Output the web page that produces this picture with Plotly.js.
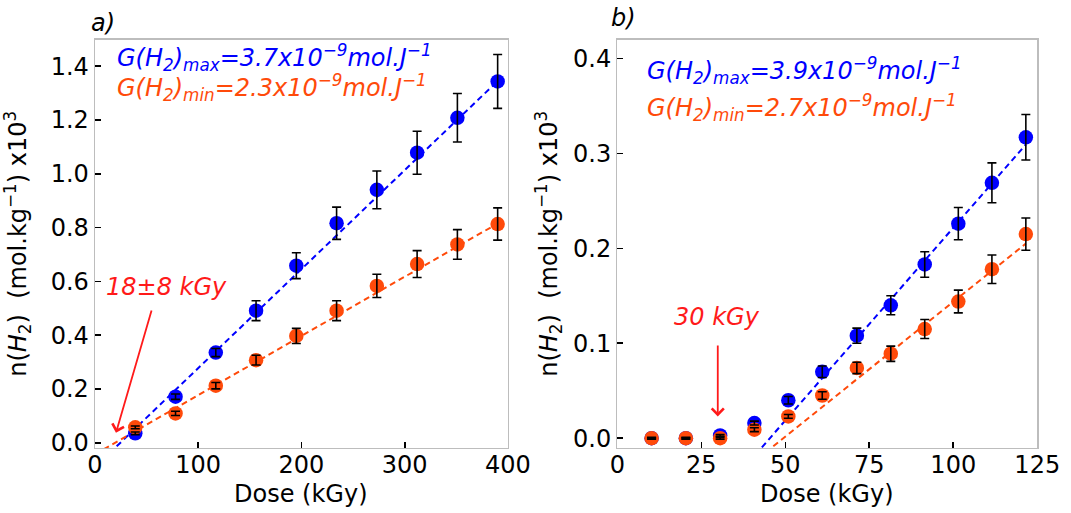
<!DOCTYPE html>
<html>
<head>
<meta charset="utf-8">
<script src="https://cdn.plot.ly/plotly-3.0.1.min.js"></script>
<style>html,body{margin:0;padding:0;background:#fff;}#chart{width:1071px;height:513px;}</style>
</head>
<body>
<div id="chart"></div>
<script>
// ---------- Panel a) data ----------
const doseA = [39, 78, 117, 156, 195, 234, 273, 312, 351, 390];
const maxA = [0.035, 0.171, 0.335, 0.491, 0.658, 0.816, 0.940, 1.078, 1.208, 1.343];
const maxErrA = [0.005, 0.010, 0.015, 0.037, 0.048, 0.060, 0.070, 0.080, 0.090, 0.100];
const minA = [0.057, 0.109, 0.212, 0.307, 0.397, 0.491, 0.583, 0.664, 0.737, 0.813];
const minErrA = [0.005, 0.008, 0.012, 0.018, 0.028, 0.037, 0.043, 0.050, 0.055, 0.060];
// linear fits (slope, intercept) for panel a)
const fitMaxA = [0.00368, -0.0906];
const fitMinA = [0.00220, -0.0430];

// ---------- Panel b) data ----------
const doseB = [10.2, 20.4, 30.6, 40.8, 50.9, 61.0, 71.3, 81.4, 91.5, 101.5, 111.5, 121.6];
const maxB = [0.000, 0.000, 0.003, 0.016, 0.040, 0.070, 0.108, 0.140, 0.183, 0.226, 0.269, 0.317];
const maxErrB = [0.001, 0.001, 0.001, 0.002, 0.004, 0.006, 0.008, 0.010, 0.0135, 0.017, 0.021, 0.024];
const minB = [0.000, 0.000, 0.000, 0.009, 0.023, 0.045, 0.074, 0.089, 0.115, 0.144, 0.178, 0.215];
const minErrB = [0.0005, 0.0005, 0.001, 0.002, 0.002, 0.004, 0.006, 0.008, 0.010, 0.012, 0.015, 0.017];
const fitMaxB = [0.00406, -0.1843];
const fitMinB = [0.00284, -0.1403];

// labels
const gMaxA = "3.7", gMinA = "2.3", gMaxB = "3.9", gMinB = "2.7";
const thresholdA = "18±8 kGy", thresholdB = "30 kGy";
const xTitle = "Dose (kGy)";
const yTitle = "n(<i>H</i><sub>2</sub>)  (mol.kg<sup>−1</sup>) x10<sup>3</sup>";

const BLUE = "#0000ff", ORANGE = "#ff4a0a", RED = "#ff1a1a";
const FONT = "DejaVu Sans";

function fitLine(p, x0, x1) {
  const xs = [x0, x1];
  return { x: xs, y: xs.map(v => p[0] * v + p[1]) };
}

function panelTraces(dose, ymax, emax, ymin, emin, fmax, fmin, xa, ya) {
  const lmax = fitLine(fmax, 0, dose[dose.length - 1]);
  const lmin = fitLine(fmin, 0, dose[dose.length - 1]);
  const dash = { width: 2, dash: "6px,4px" };
  return [
    { x: lmax.x, y: lmax.y, mode: "lines", line: Object.assign({ color: BLUE }, dash), xaxis: xa, yaxis: ya, hoverinfo: "skip" },
    { x: lmin.x, y: lmin.y, mode: "lines", line: Object.assign({ color: ORANGE }, dash), xaxis: xa, yaxis: ya, hoverinfo: "skip" },
    { x: dose, y: ymax, mode: "markers", marker: { color: BLUE, size: 14.5 }, xaxis: xa, yaxis: ya },
    { x: dose, y: ymin, mode: "markers", marker: { color: ORANGE, size: 14.5 }, xaxis: xa, yaxis: ya },
    { x: dose, y: ymax, mode: "markers", marker: { opacity: 0, size: 1 }, xaxis: xa, yaxis: ya,
      error_y: { type: "data", array: emax, visible: true, color: "#000", thickness: 1.6, width: 4.5 } },
    { x: dose, y: ymin, mode: "markers", marker: { opacity: 0, size: 1 }, xaxis: xa, yaxis: ya,
      error_y: { type: "data", array: emin, visible: true, color: "#000", thickness: 1.6, width: 4.5 } }
  ];
}

const data = [].concat(
  panelTraces(doseA, maxA, maxErrA, minA, minErrA, fitMaxA, fitMinA, "x", "y"),
  panelTraces(doseB, maxB, maxErrB, minB, minErrB, fitMaxB, fitMinB, "x2", "y2")
);

const axisBase = {
  showline: true, mirror: true, linecolor: "#bdbdbd", linewidth: 1.3,
  ticks: "inside", ticklen: 6, tickwidth: 1.6, tickcolor: "#000",
  showgrid: false, zeroline: false,
  tickfont: { family: FONT, size: 24, color: "#000" }
};
function gText(val, kind) {
  return "<i>G(H<sub>2</sub>)<sub>" + kind + "</sub>=" + val + "x10<sup>−9</sup>mol.J<sup>−1</sup></i>";
}
const W = 1071, H = 513;
const domA = [0.0887, 0.4743], domB = [0.5764, 0.9685], domY = [0.1267, 0.923];
const yMid = (domY[0] + domY[1]) / 2;

const layout = {
  width: W, height: H,
  margin: { l: 0, r: 0, t: 0, b: 0 },
  paper_bgcolor: "#fff", plot_bgcolor: "#fff",
  showlegend: false,
  font: { family: FONT, size: 24, color: "#000" },
  xaxis: Object.assign({}, axisBase, { domain: domA, range: [0, 400], dtick: 100, anchor: "y", ticklabelstandoff: -5 }),
  yaxis: Object.assign({}, axisBase, { domain: domY, range: [-0.0197, 1.499], dtick: 0.2, tickformat: ".1f", anchor: "x" }),
  xaxis2: Object.assign({}, axisBase, { domain: domB, range: [0, 125], dtick: 25, anchor: "y2", ticklabelstandoff: -5 }),
  yaxis2: Object.assign({}, axisBase, { domain: domY, range: [-0.0103, 0.42], dtick: 0.1, tickformat: ".1f", anchor: "x2" }),
  annotations: [
    // axis titles
    { xref: "paper", yref: "paper", x: (domA[0] + domA[1]) / 2, y: 1 - 494 / H, text: xTitle, showarrow: false,
      xanchor: "center", yanchor: "middle", font: { family: FONT, size: 24, color: "#000" } },
    { xref: "paper", yref: "paper", x: (domB[0] + domB[1]) / 2, y: 1 - 494 / H, text: xTitle, showarrow: false,
      xanchor: "center", yanchor: "middle", font: { family: FONT, size: 24, color: "#000" } },
    { xref: "paper", yref: "paper", x: 18 / W, y: yMid, text: yTitle, textangle: -90, showarrow: false,
      xanchor: "center", yanchor: "middle", font: { family: FONT, size: 24, color: "#000" } },
    { xref: "paper", yref: "paper", x: 549 / W, y: yMid, text: yTitle, textangle: -90, showarrow: false,
      xanchor: "center", yanchor: "middle", font: { family: FONT, size: 24, color: "#000" } },
    // G values
    { xref: "x", yref: "y", x: 19.4, y: 1.431, text: gText(gMaxA, "max"), showarrow: false,
      xanchor: "left", yanchor: "middle", font: { family: FONT, size: 24, color: BLUE } },
    { xref: "x", yref: "y", x: 19.4, y: 1.32, text: gText(gMinA, "min"), showarrow: false,
      xanchor: "left", yanchor: "middle", font: { family: FONT, size: 24, color: ORANGE } },
    { xref: "x2", yref: "y2", x: 8.2, y: 0.3875, text: gText(gMaxB, "max"), showarrow: false,
      xanchor: "left", yanchor: "middle", font: { family: FONT, size: 24, color: BLUE } },
    { xref: "x2", yref: "y2", x: 8.2, y: 0.348, text: gText(gMinB, "min"), showarrow: false,
      xanchor: "left", yanchor: "middle", font: { family: FONT, size: 24, color: ORANGE } },
    // thresholds
    { xref: "x", yref: "y", x: 68.8, y: 0.58, text: "<i>" + thresholdA + "</i>", showarrow: false,
      font: { family: FONT, size: 24, color: RED } },
    { xref: "x", yref: "y", x: 20.3, y: 0.037, axref: "x", ayref: "y", ax: 55.2, ay: 0.497, text: "",
      showarrow: true, arrowhead: 4, arrowsize: 1.3, arrowwidth: 1.8, arrowcolor: RED },
    { xref: "x2", yref: "y2", x: 29.8, y: 0.128, text: "<i>" + thresholdB + "</i>", showarrow: false,
      font: { family: FONT, size: 24, color: RED } },
    { xref: "x2", yref: "y2", x: 29.9, y: 0.023, axref: "x2", ayref: "y2", ax: 29.9, ay: 0.0992, text: "",
      showarrow: true, arrowhead: 4, arrowsize: 1.3, arrowwidth: 1.8, arrowcolor: RED },
    // panel labels
    { xref: "paper", yref: "paper", x: 103 / W, y: 1 - 23 / H, text: "<i>a)</i>", showarrow: false,
      xanchor: "center", yanchor: "middle", font: { family: FONT, size: 24, color: "#000" } },
    { xref: "paper", yref: "paper", x: 623 / W, y: 1 - 18 / H, text: "<i>b)</i>", showarrow: false,
      xanchor: "center", yanchor: "middle", font: { family: FONT, size: 24, color: "#000" } }
  ]
};

Plotly.newPlot("chart", data, layout, { displayModeBar: false, staticPlot: true });
</script>
</body>
</html>
